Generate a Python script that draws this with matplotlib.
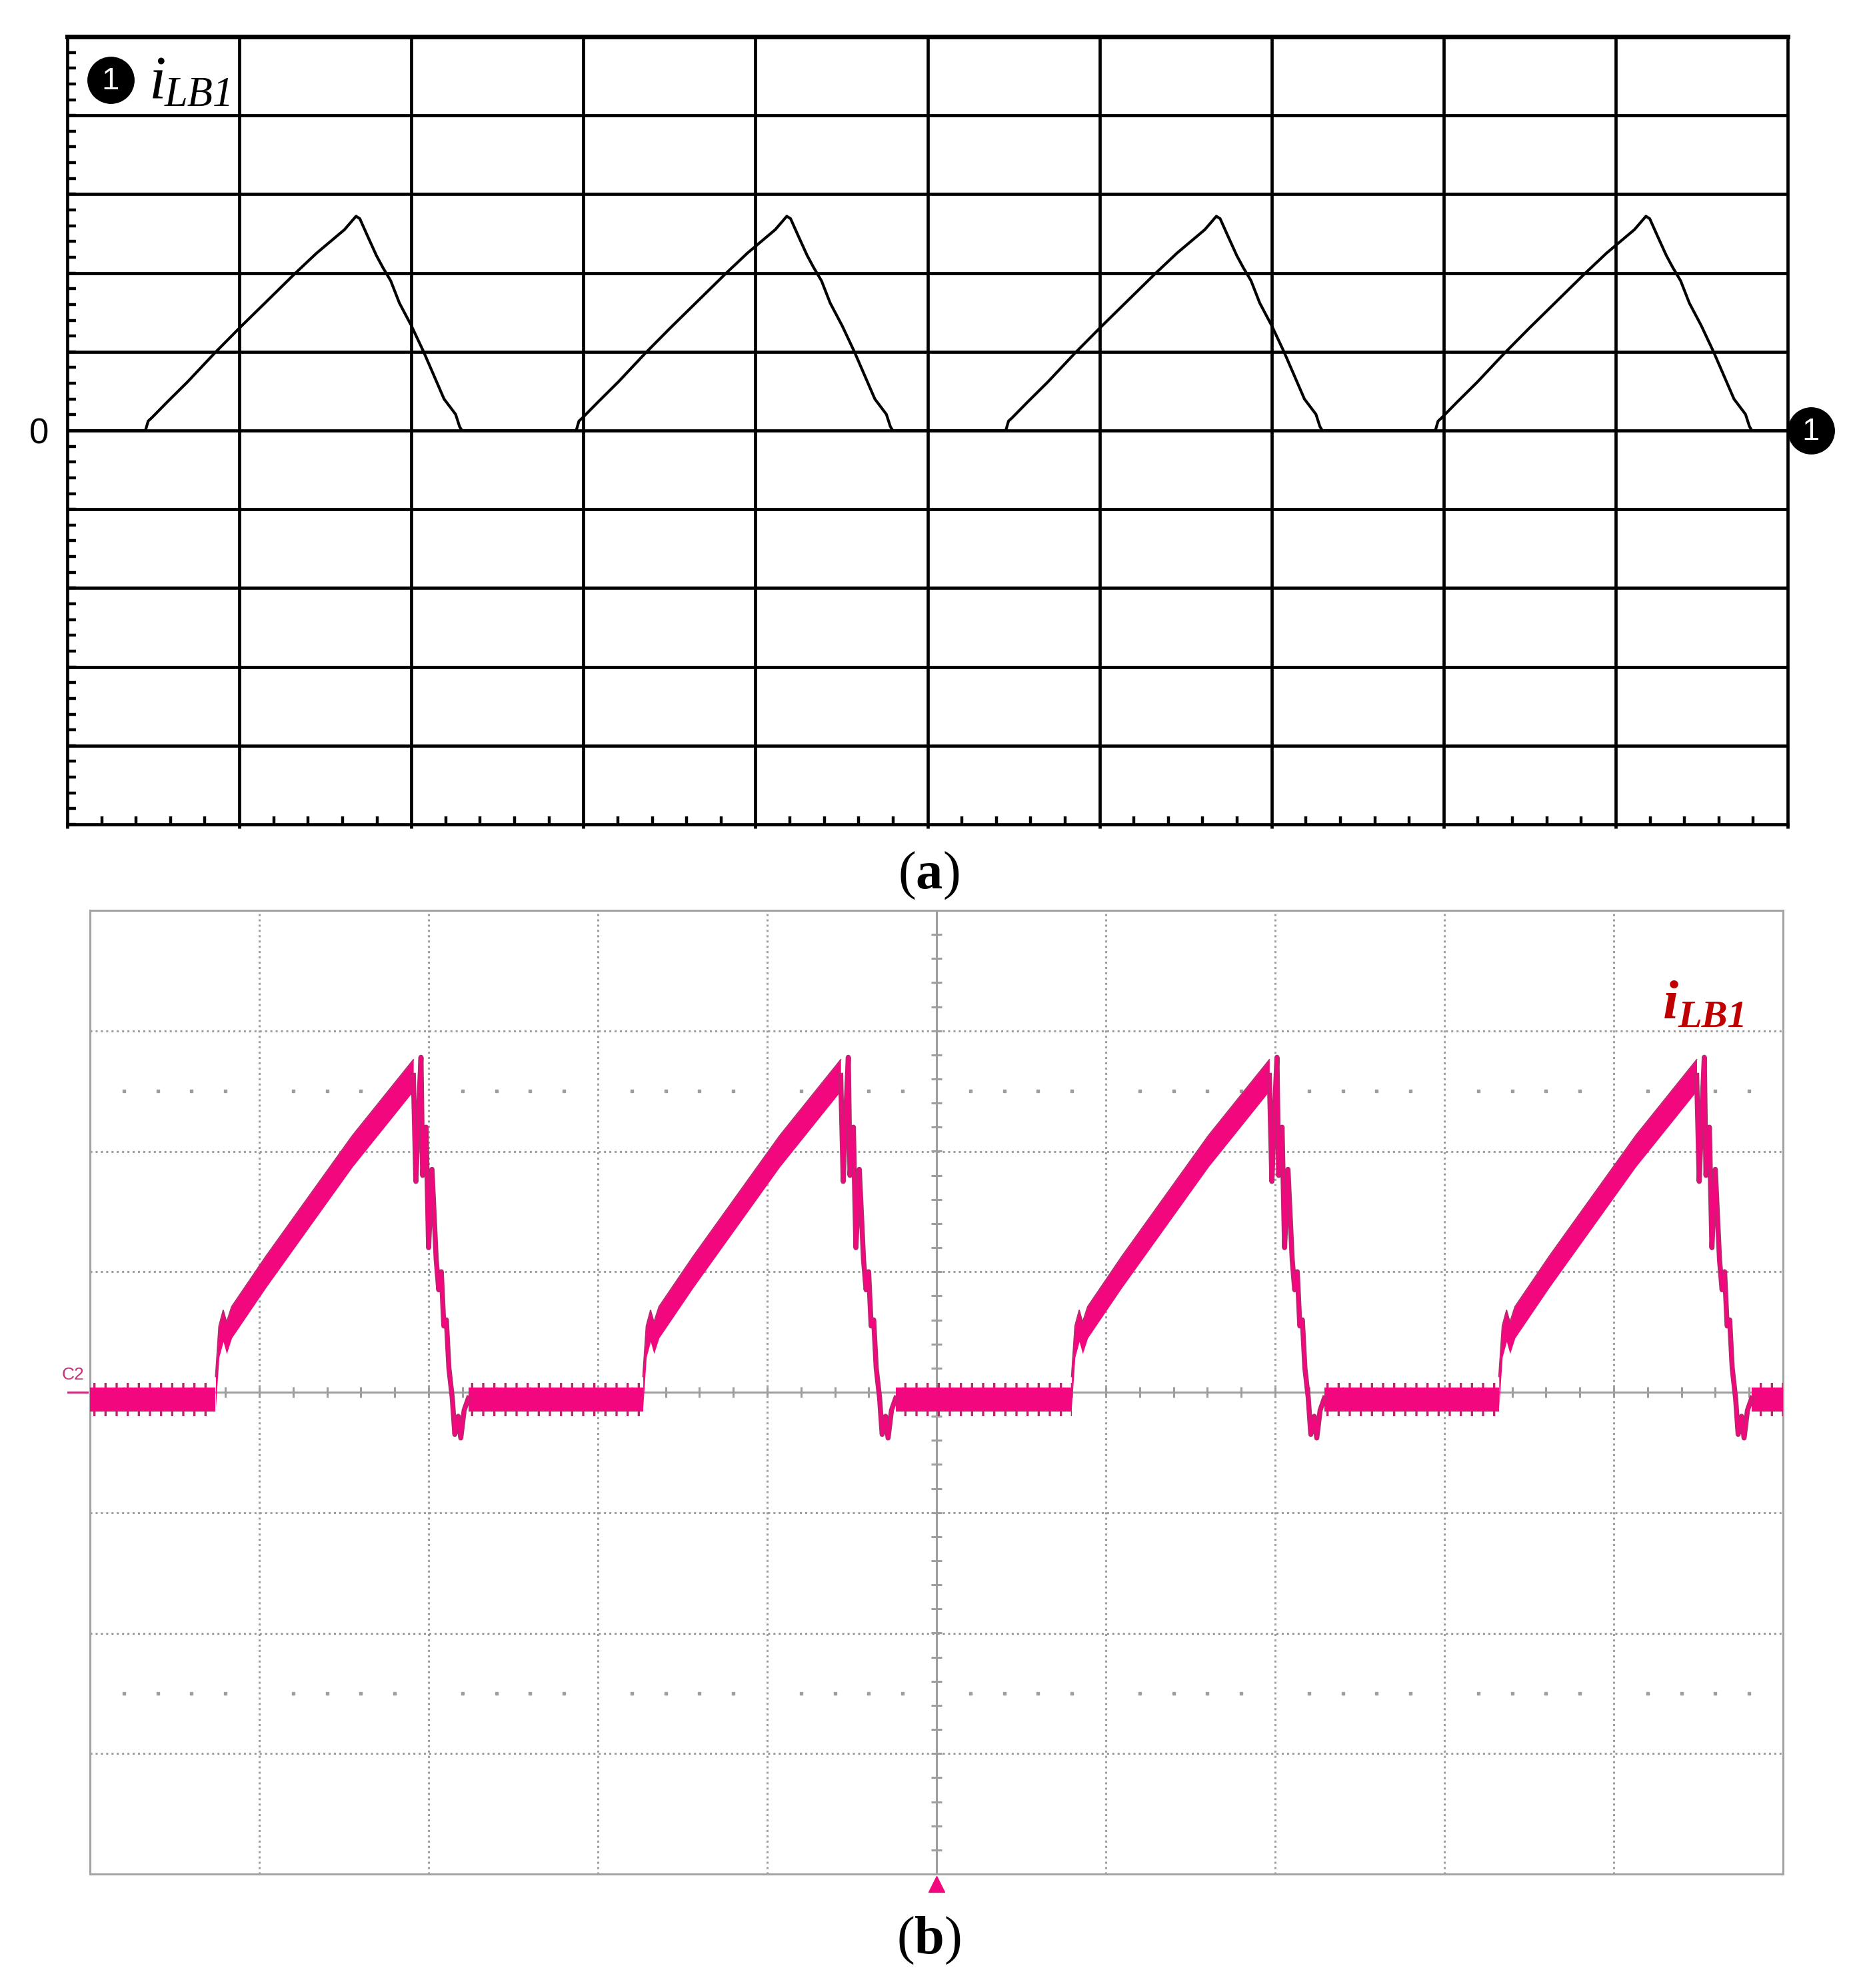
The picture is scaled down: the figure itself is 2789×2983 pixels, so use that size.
import numpy as np
import matplotlib
matplotlib.use('Agg')
import matplotlib.pyplot as plt
from matplotlib.ticker import MultipleLocator

plt.rcParams['mathtext.fontset'] = 'custom'
plt.rcParams['mathtext.rm'] = 'Liberation Serif'
plt.rcParams['mathtext.bf'] = 'Liberation Serif:bold'
plt.rcParams['hatch.linewidth'] = 2.4

W, H = 2789, 2983
DPI = 100

# (a) simulated iLB1, one switching period (divisions),
#     time measured from the start of each rise
sim_starts = [0.454, 2.958, 5.455, 7.952]
sim_t = [0.0, 0.016, 0.036, 0.126, 0.246, 0.401, 0.546, 0.868, 0.994,
         1.157, 1.224, 1.246, 1.291, 1.343, 1.380, 1.426, 1.476, 1.546, 1.617,
         1.736, 1.803, 1.826, 1.840]
sim_i = [0.0, 0.12, 0.16, 0.36, 0.62, 0.98, 1.30, 1.99, 2.25,
         2.55, 2.72, 2.69, 2.47, 2.22, 2.07, 1.9, 1.62, 1.33, 1.0,
         0.40, 0.206, 0.05, 0.0]

# (b) measured iLB1 (scope capture, C2), divisions
meas_starts = [0.742, 3.266, 5.798, 8.322]
ramp_t = [0.0, 0.02, 0.045, 0.065, 0.095, 0.298, 0.808, 1.168]
ramp_i = [0.0, 0.42, 0.55, 0.45, 0.58, 1.0, 2.0, 2.63]
fall_t = [1.168, 1.183, 1.198, 1.213, 1.223, 1.243, 1.258, 1.278, 1.303, 1.318,
          1.333, 1.348, 1.363, 1.378, 1.398, 1.413, 1.433, 1.448, 1.468, 1.493]
fall_i = [2.63, 1.75, 2.3, 2.78, 1.8, 2.2, 1.2, 1.85, 1.1, 0.85,
          1.0, 0.55, 0.6, 0.2, -0.05, -0.35, -0.2, -0.38, -0.15, -0.05]
zero_core = (-0.16, 0.04)
zero_noise = (-0.2, 0.08)

PINK = '#F2077E'
PINK_DARK = '#B8286C'
GRAY = '#9E9E9E'


def fpos(x0, y0, x1, y1):
    return [x0 / W, 1 - y1 / H, (x1 - x0) / W, (y1 - y0) / H]


fig = plt.figure(figsize=(W / DPI, H / DPI), dpi=DPI)

# ---------------- panel (a) ----------------
ax = fig.add_axes(fpos(101, 55, 2682, 1237))
ax.set_xlim(0, 10)
ax.set_ylim(-5, 5)

for v in range(1, 10):
    ax.axvline(v, color='black', lw=3.4, zorder=1)
for h in range(-4, 5):
    ax.axhline(h, color='black', lw=3.4, zorder=1)

xs = [0.0]
ys = [0.0]
for s in sim_starts:
    xs += [s + t for t in sim_t]
    ys += sim_i
xs.append(10.0)
ys.append(0.0)
ax.plot(xs, ys, color='black', lw=3.0, solid_joinstyle='round', zorder=3)

for sp in ax.spines.values():
    sp.set_linewidth(3.4)
ax.spines['top'].set_linewidth(5.0)

ax.set_xticks(range(11))
ax.xaxis.set_minor_locator(MultipleLocator(0.2))
ax.yaxis.set_minor_locator(MultipleLocator(0.2))
ax.set_yticks([0])
ax.set_yticklabels(['0'], fontsize=38, family='Liberation Sans')
ax.tick_params(axis='x', which='major', direction='out', length=4, width=3.4,
               labelbottom=False)
ax.tick_params(axis='y', which='major', length=0, pad=20)
ax.tick_params(which='minor', direction='in', length=9, width=3.2)

# channel markers
ax.plot([0.25], [4.45], 'o', ms=50, color='black', clip_on=False, zorder=5)
ax.text(0.25, 4.43, '1', color='white', ha='center', va='center', fontsize=34,
        family='Liberation Sans', zorder=6)
ax.plot([10.134], [0.0], 'o', ms=50, color='black', clip_on=False, zorder=5)
ax.text(10.134, -0.02, '1', color='white', ha='center', va='center',
        fontsize=34, family='Liberation Sans', zorder=6, clip_on=False)

fig.text(224 / W, 1 - 147 / H, 'i', fontsize=66, family='Liberation Serif',
         style='italic', ha='left', va='baseline')
fig.text(247 / W, 1 - 159 / H, 'LB1', fontsize=45, family='Liberation Serif',
         style='italic', ha='left', va='baseline')

# ---------------- panel (b) ----------------
bx = fig.add_axes(fpos(135, 1366, 2675, 2812))
bx.set_xlim(0, 10)
bx.set_ylim(-4, 4)
bx.set_xticks([])
bx.set_yticks([])
for sp in bx.spines.values():
    sp.set_color('#A3A3A3')
    sp.set_linewidth(2.2)

dots = (0, (1, 1.6))
for v in [1, 2, 3, 4, 6, 7, 8, 9]:
    bx.axvline(v, color=GRAY, lw=2.2, ls=dots, zorder=1)
for h in [-3, -2, -1, 1, 2, 3]:
    bx.axhline(h, color=GRAY, lw=2.2, ls=dots, zorder=1)
bx.axvline(5, color=GRAY, lw=2.2, zorder=1)
bx.axhline(0, color=GRAY, lw=2.2, zorder=1)

fine = np.arange(0.2, 10, 0.2)
bx.plot(fine, np.zeros_like(fine), ls='none', marker='|', ms=12, mew=2.2,
        color=GRAY, zorder=1)
fine_y = np.arange(-3.8, 4, 0.2)
bx.plot(np.full_like(fine_y, 5.0), fine_y, ls='none', marker='_', ms=12,
        mew=2.2, color=GRAY, zorder=1)
sparse = np.array([p for p in fine if abs(p - round(p)) > 0.05])
for yy in (2.5, -2.5):
    bx.plot(sparse, np.full_like(sparse, yy), ls='none', marker='s', ms=2.2,
            color=GRAY, zorder=1)

# zero-level noise between pulses
z_from = [0.0] + [s + fall_t[-1] for s in meas_starts]
z_to = meas_starts + [10.0]
for a, b in zip(z_from, z_to):
    bx.fill_between([a, b], zero_noise[0], zero_noise[1], facecolor='none',
                    edgecolor=PINK_DARK, hatch='|', lw=0, zorder=3)
    bx.fill_between([a, b], zero_core[0], zero_core[1], color=PINK, lw=0,
                    zorder=4)

ramp_i = np.array(ramp_i)
for s in meas_starts:
    rx = [s + t for t in ramp_t]
    bx.fill_between(rx, ramp_i - 0.13, ramp_i + 0.13, color=PINK, lw=0,
                    zorder=4)
    bx.plot(rx, ramp_i + 0.13, color=PINK_DARK, lw=1.4, zorder=4)
    fx = [s + t for t in fall_t]
    bx.plot(fx, fall_i, color=PINK_DARK, lw=5.5, zorder=4)
    bx.plot(fx, fall_i, color=PINK, lw=3.0, zorder=4)

# channel / trigger markers
bx.plot([-0.13, -0.016], [0.0, 0.0], color='#C8307A', lw=2.2, clip_on=False)
bx.text(-0.10, 0.08, 'C2', color='#C8307A', fontsize=19,
        family='Liberation Sans', ha='center', va='bottom', clip_on=False)
bx.plot([5.0], [-4.085], marker='^', ms=17, color=PINK, clip_on=False,
        zorder=6)

fig.text(2495 / W, 1 - 1528 / H, 'i', fontsize=60, family='Liberation Serif',
         style='italic', weight='bold', color='#C00000', ha='left',
         va='baseline')
fig.text(2517 / W, 1 - 1541 / H, 'LB1', fontsize=42, family='Liberation Serif',
         style='italic', weight='bold', color='#C00000', ha='left',
         va='baseline')

# captions
fig.text(1393 / W, 1 - 1313 / H, r'$\mathrm{(}\mathbf{a}\mathrm{)}$',
         fontsize=58, ha='center', va='center')
fig.text(1393 / W, 1 - 2911 / H, r'$\mathrm{(}\mathbf{b}\mathrm{)}$',
         fontsize=58, ha='center', va='center')

fig.savefig('out.png', dpi=DPI)
